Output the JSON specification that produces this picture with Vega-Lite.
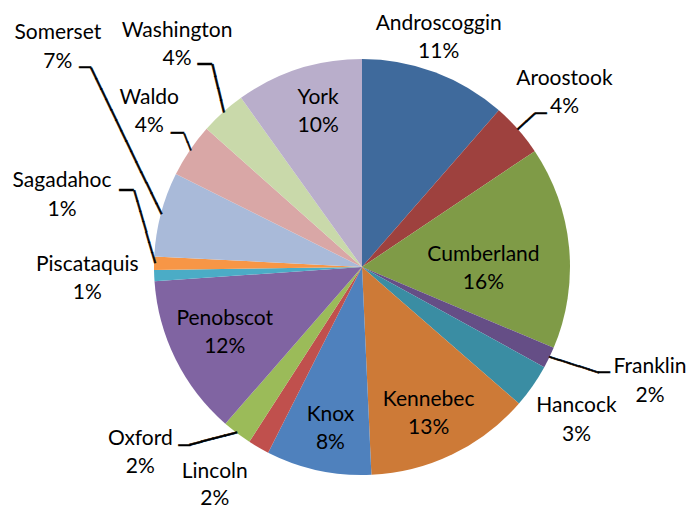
{
  "$schema": "https://vega.github.io/schema/vega-lite/v6.json",
  "width": 656,
  "height": 482,
  "autosize": {"type": "none"},
  "padding": {"left": 34, "top": 26, "right": 0, "bottom": 0},
  "background": "#ffffff",
  "data": {
    "values": [
      {"county": "Androscoggin", "value": 0.1143},
      {"county": "Aroostook", "value": 0.0417},
      {"county": "Cumberland", "value": 0.1575},
      {"county": "Franklin", "value": 0.0165},
      {"county": "Hancock", "value": 0.0339},
      {"county": "Kennebec", "value": 0.1289},
      {"county": "Knox", "value": 0.0817},
      {"county": "Lincoln", "value": 0.0166},
      {"county": "Oxford", "value": 0.0230},
      {"county": "Penobscot", "value": 0.1249},
      {"county": "Piscataquis", "value": 0.0087},
      {"county": "Sagadahoc", "value": 0.0104},
      {"county": "Somerset", "value": 0.0656},
      {"county": "Waldo", "value": 0.0420},
      {"county": "Washington", "value": 0.0355},
      {"county": "York", "value": 0.0988}
    ]
  },
  "encoding": {
    "theta": {"field": "value", "type": "quantitative", "stack": true},
    "order": {"field": "county", "type": "ordinal", "sort": "ascending"}
  },
  "layer": [
    {
      "mark": {"type": "arc", "outerRadius": 208},
      "encoding": {
        "color": {
          "field": "county",
          "type": "nominal",
          "legend": null,
          "scale": {
            "domain": ["Androscoggin", "Aroostook", "Cumberland", "Franklin", "Hancock", "Kennebec", "Knox", "Lincoln", "Oxford", "Penobscot", "Piscataquis", "Sagadahoc", "Somerset", "Waldo", "Washington", "York"],
            "range": ["#3F6A9C", "#9E413E", "#7F9B47", "#654E86", "#3A8DA3", "#CD7A37", "#4F81BD", "#C0504D", "#9BBB59", "#8064A2", "#4BACC6", "#F79646", "#A9BAD9", "#D9A7A6", "#C9D9AA", "#B9AECB"]
          }
        }
      }
    },
    {"mark": {"type": "text", "style": "ldr", "radius": 208, "angle": 317.3, "dx": 11.5, "fontSize": 19.1},
     "encoding": {"text": {"condition": {"test": "datum.county === 'Aroostook'", "value": "──"}, "value": ""}}},
    {"mark": {"type": "text", "style": "ldr", "radius": 208, "dx": 22.6, "dy": -15.6, "fontSize": 19},
     "encoding": {"text": {"condition": {"test": "datum.county === 'Aroostook'", "value": "─"}, "value": ""}}},
    {"mark": {"type": "text", "style": "ldr", "radius": 208, "angle": 17.7, "dx": 25.75, "fontSize": 17.1},
     "encoding": {"text": {"condition": {"test": "datum.county === 'Franklin'", "value": "─────"}, "value": ""}}},
    {"mark": {"type": "text", "style": "ldr", "radius": 208, "dx": 54.8, "dy": 15.7, "fontSize": 19},
     "encoding": {"text": {"condition": {"test": "datum.county === 'Franklin'", "value": "─"}, "value": ""}}},
    {"mark": {"type": "text", "style": "ldr", "radius": 208, "angle": 345.2, "dx": -24.3, "fontSize": 20.2},
     "encoding": {"text": {"condition": {"test": "datum.county === 'Oxford'", "value": "────"}, "value": ""}}},
    {"mark": {"type": "text", "style": "ldr", "radius": 208, "dx": -52.7, "dy": 12.4, "fontSize": 19},
     "encoding": {"text": {"condition": {"test": "datum.county === 'Oxford'", "value": "─"}, "value": ""}}},
    {"mark": {"type": "text", "style": "ldr", "radius": 208, "angle": 74, "dx": -37.55, "fontSize": 17.8},
     "encoding": {"text": {"condition": {"test": "datum.county === 'Sagadahoc'", "value": "───────"}, "value": ""}}},
    {"mark": {"type": "text", "style": "ldr", "radius": 208, "dx": -27.6, "dy": -72.2, "fontSize": 23},
     "encoding": {"text": {"condition": {"test": "datum.county === 'Sagadahoc'", "value": "─"}, "value": ""}}},
    {"mark": {"type": "text", "style": "ldr", "radius": 208, "angle": 64.3, "dx": -80.9, "fontSize": 19.2},
     "encoding": {"text": {"condition": {"test": "datum.county === 'Somerset'", "value": "──────────────"}, "value": ""}}},
    {"mark": {"type": "text", "style": "ldr", "radius": 208, "dx": -75.8, "dy": -145.8, "fontSize": 19},
     "encoding": {"text": {"condition": {"test": "datum.county === 'Somerset'", "value": "─"}, "value": ""}}},
    {"mark": {"type": "text", "style": "ldr", "radius": 208, "angle": 68.9, "dx": -8.65, "fontSize": 14.4},
     "encoding": {"text": {"condition": {"test": "datum.county === 'Waldo'", "value": "──"}, "value": ""}}},
    {"mark": {"type": "text", "style": "ldr", "radius": 208, "dx": -12.5, "dy": -16.1, "fontSize": 21},
     "encoding": {"text": {"condition": {"test": "datum.county === 'Waldo'", "value": "─"}, "value": ""}}},
    {"mark": {"type": "text", "style": "ldr", "radius": 208, "angle": 76.5, "dx": -24.4, "fontSize": 20.3},
     "encoding": {"text": {"condition": {"test": "datum.county === 'Washington'", "value": "────"}, "value": ""}}},
    {"mark": {"type": "text", "style": "ldr", "radius": 208, "dx": -18.3, "dy": -47.4, "fontSize": 23},
     "encoding": {"text": {"condition": {"test": "datum.county === 'Washington'", "value": "─"}, "value": ""}}},

    {"mark": {"type": "text", "style": "lbl", "radius": 160, "dx": 5, "dy": -17},
     "encoding": {"text": {"condition": {"test": "datum.county === 'York'", "field": "county", "type": "nominal"}, "value": ""}}},
    {"mark": {"type": "text", "style": "lbl", "radius": 160, "dx": 5, "dy": 11},
     "encoding": {"text": {"condition": {"test": "datum.county === 'York'", "field": "value", "type": "quantitative", "format": ".0%"}, "value": ""}}},
    {"mark": {"type": "text", "style": "lbl", "radius": 160, "dx": -3, "dy": -11},
     "encoding": {"text": {"condition": {"test": "datum.county === 'Kennebec'", "field": "county", "type": "nominal"}, "value": ""}}},
    {"mark": {"type": "text", "style": "lbl", "radius": 160, "dx": -3, "dy": 17},
     "encoding": {"text": {"condition": {"test": "datum.county === 'Kennebec'", "field": "value", "type": "quantitative", "format": ".0%"}, "value": ""}}},
    {"mark": {"type": "text", "style": "lbl", "radius": 160, "dx": 2, "dy": -8},
     "encoding": {"text": {"condition": {"test": "datum.county === 'Knox'", "field": "county", "type": "nominal"}, "value": ""}}},
    {"mark": {"type": "text", "style": "lbl", "radius": 160, "dx": 2, "dy": 20},
     "encoding": {"text": {"condition": {"test": "datum.county === 'Knox'", "field": "value", "type": "quantitative", "format": ".0%"}, "value": ""}}},
    {"mark": {"type": "text", "style": "lbl", "radius": 160, "dx": 6, "dy": -19},
     "encoding": {"text": {"condition": {"test": "datum.county === 'Penobscot'", "field": "county", "type": "nominal"}, "value": ""}}},
    {"mark": {"type": "text", "style": "lbl", "radius": 160, "dx": 6, "dy": 9},
     "encoding": {"text": {"condition": {"test": "datum.county === 'Penobscot'", "field": "value", "type": "quantitative", "format": ".0%"}, "value": ""}}},
    {"mark": {"type": "text", "style": "lbl", "radius": 120, "dx": 2, "dy": -1},
     "encoding": {"text": {"condition": {"test": "datum.county === 'Cumberland'", "field": "county", "type": "nominal"}, "value": ""}}},
    {"mark": {"type": "text", "style": "lbl", "radius": 120, "dx": 2, "dy": 27},
     "encoding": {"text": {"condition": {"test": "datum.county === 'Cumberland'", "field": "value", "type": "quantitative", "format": ".0%"}, "value": ""}}},
    {"mark": {"type": "text", "style": "lbl", "radius": 241, "dx": -8, "dy": -17},
     "encoding": {"text": {"condition": {"test": "datum.county === 'Androscoggin'", "field": "county", "type": "nominal"}, "value": ""}}},
    {"mark": {"type": "text", "style": "lbl", "radius": 241, "dx": -8, "dy": 11},
     "encoding": {"text": {"condition": {"test": "datum.county === 'Androscoggin'", "field": "value", "type": "quantitative", "format": ".0%"}, "value": ""}}},
    {"mark": {"type": "text", "style": "lbl", "radius": 267, "dx": 2, "dy": -12},
     "encoding": {"text": {"condition": {"test": "datum.county === 'Aroostook'", "field": "county", "type": "nominal"}, "value": ""}}},
    {"mark": {"type": "text", "style": "lbl", "radius": 267, "dx": 2, "dy": 16},
     "encoding": {"text": {"condition": {"test": "datum.county === 'Aroostook'", "field": "value", "type": "quantitative", "format": ".0%"}, "value": ""}}},
    {"mark": {"type": "text", "style": "lbl", "radius": 310, "dx": 9, "dy": -35},
     "encoding": {"text": {"condition": {"test": "datum.county === 'Franklin'", "field": "county", "type": "nominal"}, "value": ""}}},
    {"mark": {"type": "text", "style": "lbl", "radius": 310, "dx": 9, "dy": -6},
     "encoding": {"text": {"condition": {"test": "datum.county === 'Franklin'", "field": "value", "type": "quantitative", "format": ".0%"}, "value": ""}}},
    {"mark": {"type": "text", "style": "lbl", "radius": 264, "dx": -2, "dy": -12},
     "encoding": {"text": {"condition": {"test": "datum.county === 'Hancock'", "field": "county", "type": "nominal"}, "value": ""}}},
    {"mark": {"type": "text", "style": "lbl", "radius": 264, "dx": -2, "dy": 17},
     "encoding": {"text": {"condition": {"test": "datum.county === 'Hancock'", "field": "value", "type": "quantitative", "format": ".0%"}, "value": ""}}},
    {"mark": {"type": "text", "style": "lbl", "radius": 264, "dx": -16, "dy": -24},
     "encoding": {"text": {"condition": {"test": "datum.county === 'Lincoln'", "field": "county", "type": "nominal"}, "value": ""}}},
    {"mark": {"type": "text", "style": "lbl", "radius": 264, "dx": -16, "dy": 3},
     "encoding": {"text": {"condition": {"test": "datum.county === 'Lincoln'", "field": "value", "type": "quantitative", "format": ".0%"}, "value": ""}}},
    {"mark": {"type": "text", "style": "lbl", "radius": 289, "dx": -48, "dy": -59},
     "encoding": {"text": {"condition": {"test": "datum.county === 'Oxford'", "field": "county", "type": "nominal"}, "value": ""}}},
    {"mark": {"type": "text", "style": "lbl", "radius": 289, "dx": -48, "dy": -31},
     "encoding": {"text": {"condition": {"test": "datum.county === 'Oxford'", "field": "value", "type": "quantitative", "format": ".0%"}, "value": ""}}},
    {"mark": {"type": "text", "style": "lbl", "radius": 275, "dy": -13},
     "encoding": {"text": {"condition": {"test": "datum.county === 'Piscataquis'", "field": "county", "type": "nominal"}, "value": ""}}},
    {"mark": {"type": "text", "style": "lbl", "radius": 275, "dy": 15},
     "encoding": {"text": {"condition": {"test": "datum.county === 'Piscataquis'", "field": "value", "type": "quantitative", "format": ".0%"}, "value": ""}}},
    {"mark": {"type": "text", "style": "lbl", "radius": 308, "dx": 8, "dy": -80},
     "encoding": {"text": {"condition": {"test": "datum.county === 'Sagadahoc'", "field": "county", "type": "nominal"}, "value": ""}}},
    {"mark": {"type": "text", "style": "lbl", "radius": 308, "dx": 8, "dy": -51},
     "encoding": {"text": {"condition": {"test": "datum.county === 'Sagadahoc'", "field": "value", "type": "quantitative", "format": ".0%"}, "value": ""}}},
    {"mark": {"type": "text", "style": "lbl", "radius": 300, "dx": -14, "dy": -158},
     "encoding": {"text": {"condition": {"test": "datum.county === 'Somerset'", "field": "county", "type": "nominal"}, "value": ""}}},
    {"mark": {"type": "text", "style": "lbl", "radius": 300, "dx": -14, "dy": -129},
     "encoding": {"text": {"condition": {"test": "datum.county === 'Somerset'", "field": "value", "type": "quantitative", "format": ".0%"}, "value": ""}}},
    {"mark": {"type": "text", "style": "lbl", "radius": 263, "dx": 5, "dy": -22},
     "encoding": {"text": {"condition": {"test": "datum.county === 'Waldo'", "field": "county", "type": "nominal"}, "value": ""}}},
    {"mark": {"type": "text", "style": "lbl", "radius": 263, "dx": 5, "dy": 6},
     "encoding": {"text": {"condition": {"test": "datum.county === 'Waldo'", "field": "value", "type": "quantitative", "format": ".0%"}, "value": ""}}},
    {"mark": {"type": "text", "style": "lbl", "radius": 290, "dx": 9, "dy": -20},
     "encoding": {"text": {"condition": {"test": "datum.county === 'Washington'", "field": "county", "type": "nominal"}, "value": ""}}},
    {"mark": {"type": "text", "style": "lbl", "radius": 290, "dx": 9, "dy": 8},
     "encoding": {"text": {"condition": {"test": "datum.county === 'Washington'", "field": "value", "type": "quantitative", "format": ".0%"}, "value": ""}}}
  ],
  "config": {
    "view": {"stroke": null},
    "style": {
      "lbl": {"font": "Lato", "fontSize": 21, "fill": "#000000", "align": "center", "baseline": "middle"},
      "ldr": {"font": "DejaVu Sans Mono", "fill": "#000000", "stroke": "#000000", "strokeWidth": 0.6, "align": "center", "baseline": "middle"}
    }
  }
}
